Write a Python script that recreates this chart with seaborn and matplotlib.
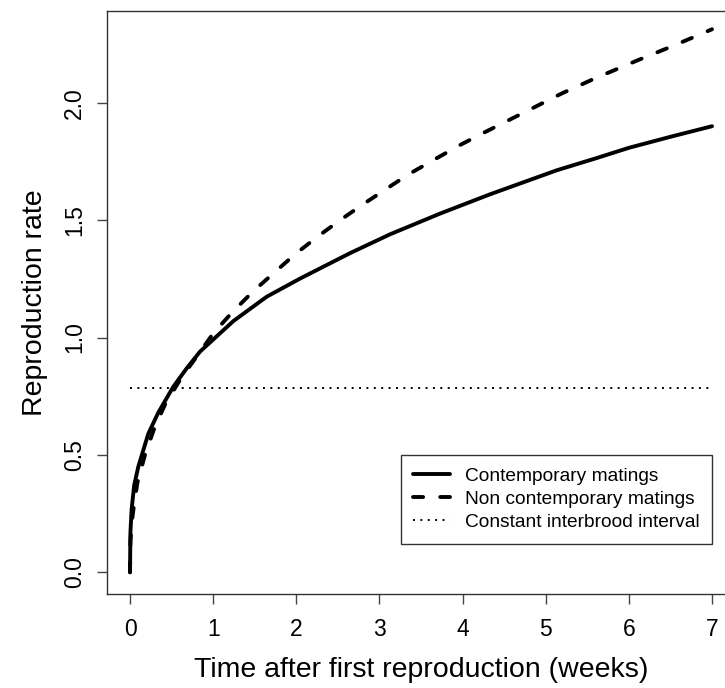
import numpy as np
import pandas as pd
import matplotlib
matplotlib.use('Agg')
import matplotlib.pyplot as plt
import seaborn as sns

# values
t_contemp = [0, 0.005, 0.02, 0.05, 0.1, 0.22, 0.34, 0.52, 0.68, 0.842, 1.243,
             1.645, 2.05, 2.65, 3.13, 3.73, 4.33, 5.13, 5.6, 6.0, 6.5, 7.0]
r_contemp = [0, 0.17, 0.27, 0.37, 0.45, 0.59, 0.68, 0.79, 0.868, 0.94, 1.07,
             1.174, 1.252, 1.36, 1.44, 1.528, 1.61, 1.712, 1.763, 1.808, 1.855, 1.90]

t_noncontemp = [0, 0.005, 0.02, 0.04, 0.088, 0.18, 0.292, 0.428, 0.62, 0.815,
                1.002, 1.236, 1.476, 1.733, 1.99, 2.254, 2.527, 2.81, 3.09, 3.35,
                3.68, 3.97, 4.27, 4.876, 5.195, 5.6, 6.10, 6.55, 7.0]
r_noncontemp = [0, 0.13, 0.21, 0.265, 0.38, 0.50, 0.613, 0.72, 0.83, 0.925,
                1.018, 1.11, 1.195, 1.276, 1.356, 1.429, 1.50, 1.569, 1.635, 1.695,
                1.762, 1.82, 1.875, 1.983, 2.04, 2.105, 2.18, 2.245, 2.313]

t_const = [0, 7]
r_const = [0.786, 0.786]

labels = ['Contemporary matings', 'Non contemporary matings',
          'Constant interbrood interval']
xticks = [0, 1, 2, 3, 4, 5, 6, 7]
yticks = [0.0, 0.5, 1.0, 1.5, 2.0]

sns.set_theme(style='white')
plt.rcParams['font.family'] = ['Liberation Sans', 'DejaVu Sans']
plt.rcParams['text.color'] = 'black'
plt.rcParams['axes.labelcolor'] = 'black'
plt.rcParams['xtick.color'] = 'black'
plt.rcParams['ytick.color'] = 'black'

fig = plt.figure(figsize=(7.25, 6.88), dpi=100)
ax = fig.add_axes([0.1472, 0.1366, 0.867, 0.848])

sns.lineplot(x=t_contemp, y=r_contemp, ax=ax, color='black', lw=2.8,
             solid_capstyle='round', solid_joinstyle='round', label=labels[0])
sns.lineplot(x=t_noncontemp, y=r_noncontemp, ax=ax, color='black', lw=2.8,
             dashes=(2.6, 4.4), dash_capstyle='round', label=labels[1])
sns.lineplot(x=t_const, y=r_const, ax=ax, color='black', lw=1.4,
             dashes=(1, 2.8), label=labels[2])

ax.set_xlim(-0.28, 7.28)
ax.set_ylim(-0.0925, 2.3925)
ax.set_xticks(xticks)
ax.set_xticklabels([str(v) for v in xticks])
ax.set_yticks(yticks)
ax.set_yticklabels([f'{v:.1f}' for v in yticks], rotation=90, va='center')
ax.tick_params(axis='both', direction='out', length=7, width=1,
               color='#444444', labelsize=16.5, bottom=True, left=True)
ax.tick_params(axis='x', pad=10)
ax.tick_params(axis='y', pad=8)

for s in ax.spines.values():
    s.set_color('#333333')
    s.set_linewidth(1)

ax.set_xlabel('Time after first reproduction (weeks)', fontsize=20.5, labelpad=12)
ax.set_ylabel('Reproduction rate', fontsize=20.5, labelpad=11)

leg = ax.legend(loc='upper left', bbox_to_anchor=(401 / 725, 1 - 455 / 688),
                bbox_transform=fig.transFigure, fontsize=13.8, frameon=True,
                fancybox=False, edgecolor='#333333', framealpha=1,
                handlelength=1.9, handletextpad=0.8, borderpad=0.65,
                labelspacing=0.3, borderaxespad=0)
leg.get_frame().set_linewidth(1)

fig.savefig('out.png', dpi=100)
